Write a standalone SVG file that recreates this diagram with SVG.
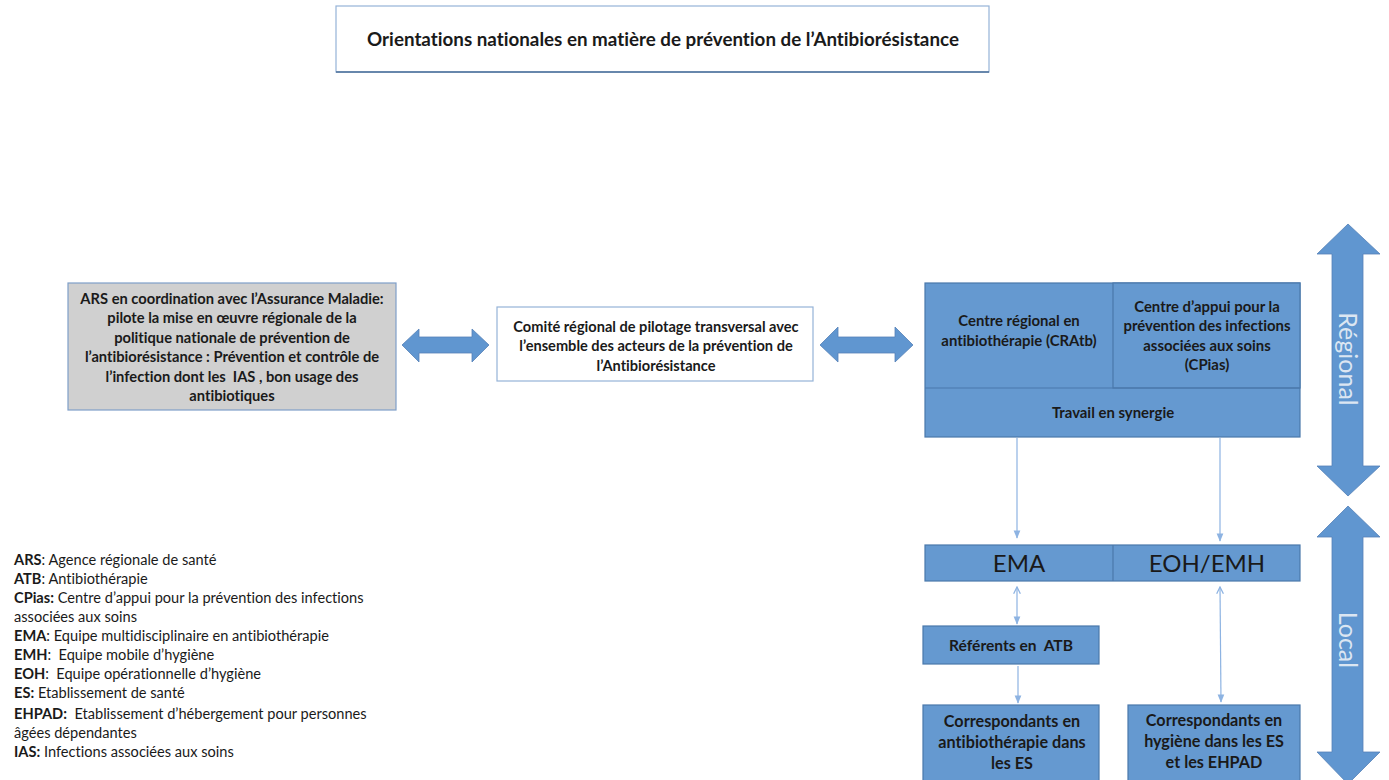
<svg xmlns="http://www.w3.org/2000/svg" width="1389" height="780" viewBox="0 0 1389 780">
  <defs>
    <style>
      .t { font-family: Lato, "Open Sans", "Liberation Sans", sans-serif; fill: #1a1a1a; font-variant-ligatures: none; }
      .b { font-weight: bold; }
      .c { text-anchor: middle; }
      .box-w { fill: #ffffff; stroke: #95b3d7; stroke-width: 1.2; }
      .box-g { fill: #d0d0d0; stroke: #7f9fc8; stroke-width: 1.2; }
      .box-b { fill: #6599d0; stroke: #4a78ab; stroke-width: 1.2; }
      .bigarrow { fill: #6096d0; stroke: #5582b8; stroke-width: 0.8; }
      .link { stroke: #8db3e2; stroke-width: 1.2; fill: none; }
      .side { font-family: Lato, "Open Sans", "Liberation Sans", sans-serif; fill: #dce6f2; font-size: 25px; text-anchor: middle; }
    </style>
    <marker id="tip" viewBox="0 0 10 10" refX="9" refY="5" markerWidth="7" markerHeight="7" orient="auto">
      <path d="M0,1 L10,5 L0,9 Z" fill="#8db3e2"/>
    </marker>
    <marker id="open" viewBox="0 0 10 10" refX="1" refY="5" markerWidth="7" markerHeight="7" orient="auto">
      <path d="M9,1 L1,5 L9,9" fill="none" stroke="#8db3e2" stroke-width="1.5"/>
    </marker>
  </defs>

  <rect width="1389" height="780" fill="#ffffff"/>

  <!-- national header -->
  <g id="national">
    <rect class="box-w" x="336" y="6" width="653" height="66"/>
    <line x1="336" y1="72" x2="989" y2="72" stroke="#4a6e99" stroke-width="1.5"/>
    <text class="t b c" x="663" y="46" font-size="18.8">Orientations nationales en matière de prévention de l’Antibiorésistance</text>
  </g>

  <!-- ARS -->
  <g id="ars">
    <rect class="box-g" x="68" y="283" width="328" height="127"/>
    <g class="t b c" font-size="14.7">
      <text x="232" y="304">ARS en coordination avec l’Assurance Maladie:</text>
      <text x="232" y="323">pilote la mise en œuvre régionale de la</text>
      <text x="232" y="343">politique nationale de prévention de</text>
      <text x="232" y="362">l’antibiorésistance : Prévention et contrôle de</text>
      <text x="232" y="382" xml:space="preserve">l’infection dont les  IAS , bon usage des</text>
      <text x="232" y="401">antibiotiques</text>
    </g>
  </g>

  <!-- steering committee -->
  <g id="comite">
    <rect class="box-w" x="497" y="307" width="316" height="74"/>
    <g class="t b c" font-size="14.6">
      <text x="656" y="332">Comité régional de pilotage transversal avec</text>
      <text x="656" y="351">l’ensemble des acteurs de la prévention de</text>
      <text x="656" y="371">l’Antibiorésistance</text>
    </g>
  </g>

  <!-- regional centres -->
  <g id="regional-centres">
    <rect class="box-b" x="925" y="283" width="375" height="154"/>
    <rect class="box-b" x="1113" y="283" width="187" height="105" stroke="#3f6694"/>
    <line x1="925" y1="388" x2="1300" y2="388" stroke="#4a78ab" stroke-width="1.2"/>
    <g class="t b c" font-size="14.9">
      <text x="1019" y="326">Centre régional en</text>
      <text x="1019" y="346">antibiothérapie (CRAtb)</text>
      <text x="1207" y="312">Centre d’appui pour la</text>
      <text x="1207" y="331">prévention des infections</text>
      <text x="1207" y="351">associées aux soins</text>
      <text x="1207" y="370">(CPias)</text>
      <text x="1113" y="418">Travail en synergie</text>
    </g>
  </g>

  <!-- local teams -->
  <g id="equipes">
    <rect class="box-b" x="925" y="545" width="375" height="36"/>
    <line x1="1113" y1="545" x2="1113" y2="581" stroke="#4a78ab" stroke-width="1.2"/>
    <text class="t c" x="1019" y="572" font-size="24">EMA</text>
    <text class="t c" x="1207" y="572" font-size="24">EOH/EMH</text>
  </g>

  <g id="referents">
    <rect class="box-b" x="923" y="626" width="176" height="38"/>
    <text class="t b c" x="1011" y="651" font-size="15.6" xml:space="preserve">Référents en  ATB</text>
  </g>

  <g id="corr-atb">
    <rect class="box-b" x="923" y="705" width="176" height="80"/>
    <g class="t b c" font-size="16.2">
      <text x="1012" y="727">Correspondants en</text>
      <text x="1012" y="748">antibiothérapie dans</text>
      <text x="1012" y="769">les ES</text>
    </g>
  </g>

  <g id="corr-hyg">
    <rect class="box-b" x="1128" y="705" width="172" height="80"/>
    <g class="t b c" font-size="16.2">
      <text x="1214" y="726">Correspondants en</text>
      <text x="1214" y="747">hygiène dans les ES</text>
      <text x="1214" y="768">et les EHPAD</text>
    </g>
  </g>

  <!-- level indicators -->
  <g id="niveau-regional">
    <path class="bigarrow" d="M1348,224 L1380,254 L1363,254 L1363,466 L1380,466 L1348,496 L1317,466 L1332,466 L1332,254 L1317,254 Z"/>
    <text class="side" transform="translate(1339,359) rotate(90)">Régional</text>
  </g>
  <g id="niveau-local">
    <path class="bigarrow" d="M1348,506 L1380,537 L1363,537 L1363,752 L1380,752 L1348,784 L1317,752 L1332,752 L1332,537 L1317,537 Z"/>
    <text class="side" transform="translate(1339,640) rotate(90)">Local</text>
  </g>

  <!-- connectors -->
  <g id="connectors">
    <path class="bigarrow" d="M402,345 L419,329 L419,337 L472,337 L472,329 L489,345 L472,362 L472,353 L419,353 L419,362 Z"/>
    <path class="bigarrow" d="M820,345 L838,327 L838,337 L895,337 L895,327 L913,345 L895,362 L895,353 L838,353 L838,362 Z"/>
    <line class="link" x1="1017" y1="438" x2="1017" y2="538" marker-end="url(#tip)"/>
    <line class="link" x1="1220" y1="438" x2="1220" y2="541" marker-end="url(#tip)"/>
    <line class="link" x1="1017" y1="587" x2="1017" y2="624" marker-start="url(#open)" marker-end="url(#tip)"/>
    <line class="link" x1="1018" y1="666" x2="1018" y2="703" marker-end="url(#tip)"/>
    <line class="link" x1="1220" y1="587" x2="1221" y2="702" marker-start="url(#open)" marker-end="url(#tip)"/>
  </g>

  <!-- abbreviations -->
  <g id="legende" class="t" font-size="14.6">
    <text x="14" y="565"><tspan class="b">ARS</tspan>: Agence régionale de santé</text>
    <text x="14" y="584"><tspan class="b">ATB</tspan>: Antibiothérapie</text>
    <text x="14" y="603"><tspan class="b">CPias:</tspan> Centre d’appui pour la prévention des infections</text>
    <text x="14" y="622">associées aux soins</text>
    <text x="14" y="641"><tspan class="b">EMA</tspan>: Equipe multidisciplinaire en antibiothérapie</text>
    <text x="14" y="660" xml:space="preserve"><tspan class="b">EMH</tspan>:  Equipe mobile d’hygiène</text>
    <text x="14" y="679" xml:space="preserve"><tspan class="b">EOH</tspan>:  Equipe opérationnelle d’hygiène</text>
    <text x="14" y="698"><tspan class="b">ES:</tspan> Etablissement de santé</text>
    <text x="14" y="719" xml:space="preserve"><tspan class="b">EHPAD:</tspan>  Etablissement d’hébergement pour personnes</text>
    <text x="14" y="738">âgées dépendantes</text>
    <text x="14" y="757"><tspan class="b">IAS:</tspan> Infections associées aux soins</text>
  </g>
</svg>
